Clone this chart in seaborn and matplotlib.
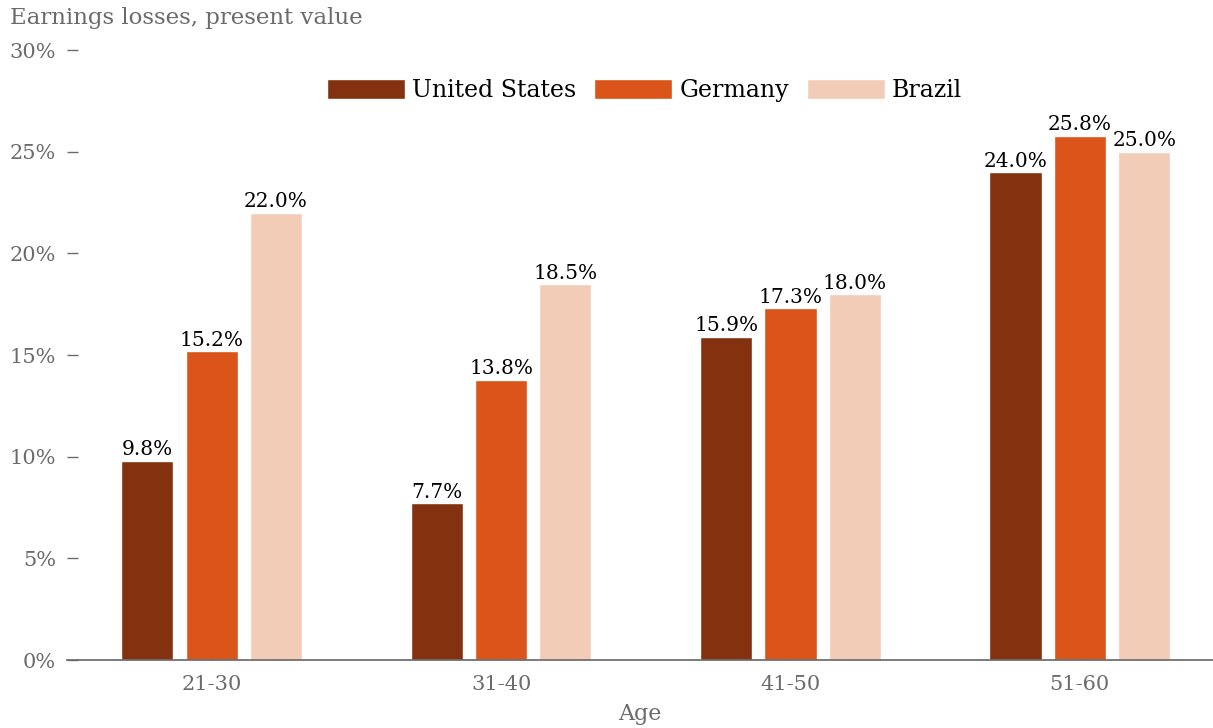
import numpy as np
import pandas as pd
import matplotlib
matplotlib.use("Agg")
import matplotlib.pyplot as plt
import seaborn as sns

ages = ["21-30", "31-40", "41-50", "51-60"]
countries = ["United States", "Germany", "Brazil"]
us = [9.8, 7.7, 15.9, 24.0]
germany = [15.2, 13.8, 17.3, 25.8]
brazil = [22.0, 18.5, 18.0, 25.0]
colors = ["#84310f", "#db5419", "#f3ccb8"]

df = pd.DataFrame({
    "age": ages * 3,
    "country": [c for c in countries for _ in ages],
    "loss": us + germany + brazil,
})

sns.set_theme(style="white")
plt.rcParams['font.family'] = ['DejaVu Serif', 'DejaVu Sans']
grey = "#6b6b6b"

fig = plt.figure(figsize=(12.13, 7.28), dpi=100)
ax = fig.add_axes([0.0552, 0.0934, 0.9448, 0.8376])

sns.barplot(data=df, x="age", y="loss", hue="country", hue_order=countries,
            palette=colors, width=0.667, gap=0.19, saturation=1, ax=ax)

for cont in ax.containers:
    ax.bar_label(cont, labels=[f"{v:.1f}%" for v in cont.datavalues],
                 fontsize=14.5, color="black", padding=1)

ax.set_ylim(0, 30)
ax.set_xlim(-0.5, 3.46)
ax.set_yticks(np.arange(0, 31, 5))
ax.set_yticklabels([f"{t}%" for t in range(0, 31, 5)])
ax.tick_params(axis="y", colors=grey, labelsize=15, length=8, width=1, direction="in", left=True, pad=8)
ax.tick_params(axis="x", colors=grey, labelsize=15, length=8, width=1, direction="in", bottom=True, pad=11)
for s in ["left", "right", "top"]:
    ax.spines[s].set_visible(False)
ax.spines["bottom"].set_color(grey)
ax.set_xlabel("Age", color=grey, fontsize=16, labelpad=6)
ax.set_ylabel("")

fig.text(0.008, 0.975, "Earnings losses, present value", color=grey, fontsize=16.5, va="center", ha="left")

ax.legend(loc="center", bbox_to_anchor=(0.504, 0.934), ncol=3, frameon=False, labelcolor="black",
          fontsize=17, handlelength=3.3, handleheight=0.95, columnspacing=0.75, handletextpad=0.3)

fig.savefig("out.png", dpi=100)
